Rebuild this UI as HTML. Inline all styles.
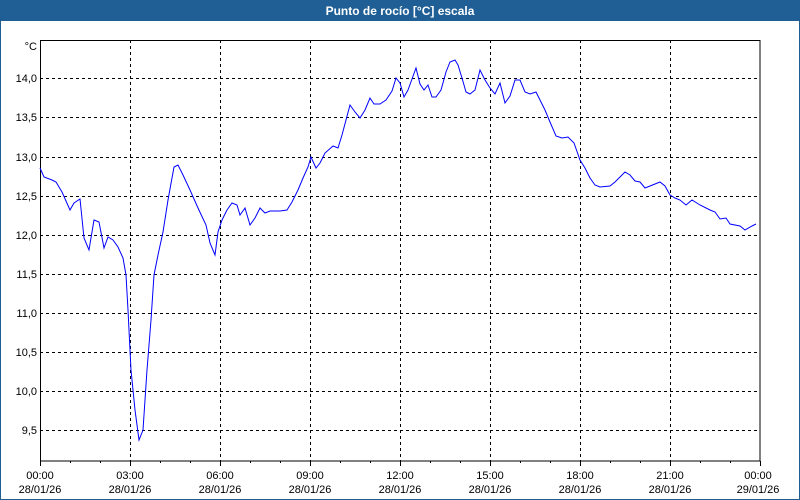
<!DOCTYPE html>
<html><head><meta charset="utf-8"><style>
html,body{margin:0;padding:0;background:#fff;}
svg{display:block;font-family:"Liberation Sans",Tahoma,sans-serif;}
</style></head><body>
<svg width="800" height="500" viewBox="0 0 800 500" xmlns="http://www.w3.org/2000/svg">
<rect x="0" y="0" width="800" height="500" fill="#fff"/>
<rect x="0" y="0" width="800" height="21" fill="#1f5f96"/>
<text x="400" y="15" text-anchor="middle" font-size="12" font-weight="bold" fill="#fff">Punto de rocío [°C] escala</text>
<rect x="0.5" y="20.5" width="799" height="479" fill="none" stroke="#1f5f96"/>
<g stroke="#000" stroke-dasharray="3,3" stroke-width="1">
<line x1="40" y1="78.5" x2="760" y2="78.5"/><line x1="40" y1="117.5" x2="760" y2="117.5"/>
<line x1="40" y1="157.5" x2="760" y2="157.5"/><line x1="40" y1="196.5" x2="760" y2="196.5"/>
<line x1="40" y1="235.5" x2="760" y2="235.5"/><line x1="40" y1="274.5" x2="760" y2="274.5"/>
<line x1="40" y1="313.5" x2="760" y2="313.5"/><line x1="40" y1="352.5" x2="760" y2="352.5"/>
<line x1="40" y1="391.5" x2="760" y2="391.5"/><line x1="40" y1="430.5" x2="760" y2="430.5"/>
<line x1="130.5" y1="40" x2="130.5" y2="461"/><line x1="220.5" y1="40" x2="220.5" y2="461"/>
<line x1="310.5" y1="40" x2="310.5" y2="461"/><line x1="400.5" y1="40" x2="400.5" y2="461"/>
<line x1="490.5" y1="40" x2="490.5" y2="461"/><line x1="580.5" y1="40" x2="580.5" y2="461"/>
<line x1="670.5" y1="40" x2="670.5" y2="461"/>
</g>
<rect x="40.5" y="40.5" width="719.5" height="420.5" fill="none" stroke="#000"/>
<g stroke="#000">
<line x1="40.5" y1="461" x2="40.5" y2="466"/><line x1="70.5" y1="461" x2="70.5" y2="463"/><line x1="100.5" y1="461" x2="100.5" y2="463"/>
<line x1="130.5" y1="461" x2="130.5" y2="466"/><line x1="160.5" y1="461" x2="160.5" y2="463"/><line x1="190.5" y1="461" x2="190.5" y2="463"/>
<line x1="220.5" y1="461" x2="220.5" y2="466"/><line x1="250.5" y1="461" x2="250.5" y2="463"/><line x1="280.5" y1="461" x2="280.5" y2="463"/>
<line x1="310.5" y1="461" x2="310.5" y2="466"/><line x1="340.5" y1="461" x2="340.5" y2="463"/><line x1="370.5" y1="461" x2="370.5" y2="463"/>
<line x1="400.5" y1="461" x2="400.5" y2="466"/><line x1="430.5" y1="461" x2="430.5" y2="463"/><line x1="460.5" y1="461" x2="460.5" y2="463"/>
<line x1="490.5" y1="461" x2="490.5" y2="466"/><line x1="520.5" y1="461" x2="520.5" y2="463"/><line x1="550.5" y1="461" x2="550.5" y2="463"/>
<line x1="580.5" y1="461" x2="580.5" y2="466"/><line x1="610.5" y1="461" x2="610.5" y2="463"/><line x1="640.5" y1="461" x2="640.5" y2="463"/>
<line x1="670.5" y1="461" x2="670.5" y2="466"/><line x1="700.5" y1="461" x2="700.5" y2="463"/><line x1="730.5" y1="461" x2="730.5" y2="463"/>
<line x1="760.5" y1="461" x2="760.5" y2="466"/>
</g>
<g font-size="11" fill="#000" text-anchor="end">
<text x="37" y="50">°C</text>
<text x="37" y="82">14,0</text><text x="37" y="121">13,5</text><text x="37" y="161">13,0</text>
<text x="37" y="200">12,5</text><text x="37" y="239">12,0</text><text x="37" y="278">11,5</text>
<text x="37" y="317">11,0</text><text x="37" y="356">10,5</text><text x="37" y="395">10,0</text>
<text x="37" y="434">9,5</text>
</g>
<g font-size="11" fill="#000" text-anchor="middle">
<text x="40" y="479">00:00</text><text x="40" y="493">28/01/26</text>
<text x="130" y="479">03:00</text><text x="130" y="493">28/01/26</text>
<text x="220" y="479">06:00</text><text x="220" y="493">28/01/26</text>
<text x="310" y="479">09:00</text><text x="310" y="493">28/01/26</text>
<text x="400" y="479">12:00</text><text x="400" y="493">28/01/26</text>
<text x="490" y="479">15:00</text><text x="490" y="493">28/01/26</text>
<text x="580" y="479">18:00</text><text x="580" y="493">28/01/26</text>
<text x="670" y="479">21:00</text><text x="670" y="493">28/01/26</text>
<text x="758" y="479">00:00</text><text x="758" y="493">29/01/26</text>
</g>
<polyline fill="none" stroke="#0000ff" stroke-width="1" points="40,168 44,177 52,180 56,182 62,192 70,210 74,203 80,199 84,238 89,250 94,220 99,222 104,248 108,237 113,240 118,247 123,258 126,275 128,310 131,370 135,410 139,440 143,430 147,370 151,320 154,275 158,255 163,232 168,200 174,167 178,165 183,175 190,190 198,208 206,225 210,243 215,255 218,232 222,220 227,210 232,203 237,205 240,215 245,208 250,225 255,218 260,208 265,213 270,211 280,211 287,210 292,202 298,190 303,178 308,167 311,157 316,168 320,163 325,153 333,146 338,148 342,135 346,120 350,105 355,112 360,118 365,110 370,98 374,104 380,104 386,100 392,91 396,78 400,83 404,97 408,90 412,79 416,68 420,84 424,90 428,85 432,97 436,97 441,90 446,72 450,62 455,60 458,65 462,78 466,92 470,94 475,90 480,70 485,80 490,88 495,94 500,83 505,103 510,96 515,80 520,80 525,92 530,94 536,92 540,100 545,110 550,122 556,136 562,138 568,137 574,143 580,160 585,168 590,178 595,185 600,187 610,186 615,182 620,177 625,172 630,175 635,181 640,182 645,188 650,186 655,184 660,182 665,186 670,195 675,198 680,200 686,205 692,200 700,205 710,210 715,212 720,219 726,218 730,224 740,226 745,230 752,226 756,224"/>
</svg>
</body></html>
